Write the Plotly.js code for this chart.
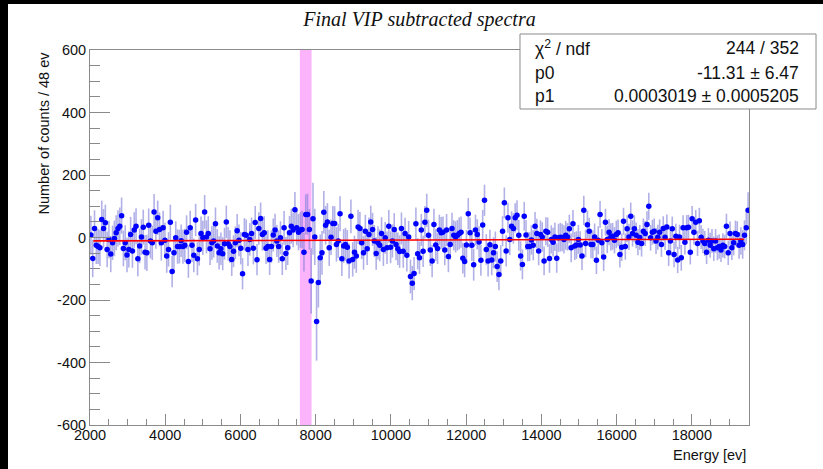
<!DOCTYPE html>
<html>
<head>
<meta charset="utf-8">
<script src="https://cdn.plot.ly/plotly-3.0.1.min.js"></script>
<style>
  html, body { margin: 0; padding: 0; background: #000; width: 823px; height: 469px; overflow: hidden; }
  #plot { position: absolute; left: 8px; top: 4px; width: 815px; height: 465px; background: #fff; }
</style>
</head>
<body>
<div id="plot"></div>
<script>
// ---- Data ----
const xMin = 2000;
const xMax = 19520;
const binWidth = 48;

const countsA = [8,-67,29,-25,-29,-33,58,29,47,-38,-6,-53,-17,-3,15,29,36,70,-35,-17,-56,-38,10,-43,24,36,-68,-27,2,33,-47,-49,39,-11,-17,82,20,63,26,-17,31,-9,-59,-38,49,-109,-49,-1,-29,-29,-10,-29,-25,17,-77,31,-25,-57,56,-68,-38,13];
const countsB = [-1,82,2,13,-36,-17,-11,44,-27,-49,-36,-52,-20,50,-20,-29,-70,-44,-17,22,-9,-34,-116,10,7,-38,-6,13,-34,48,-71,29,61,10,15,-34,-29,-70,-29,8,24,-11,-29,-1,-68,31,-51,-33,15,36,24,89,31,17,24,26,-47,74,74,26];
const countsC = [-139,60,2,-269,-144,-65,-49,81,39,50,-33,1,45,45,-22,-11,76,-68,-27,-22,-31,-75,68,-70,-47,-59,34,29,-17,-49,20,-36,10,50,26,-11,-51,-17,-25,13,-38,-1,-33,36,-31,-11,26,-22,-36];
const countsD = [-45,29,-44,13,-57,2,-125,-146,-115,44,-52,-65,24,-44,49,87,7,-40,-75,42,-24,-35,24,15,17,-40,24,-61,-22,29,7,2,7,13,17,-66,-77,-24,76,15,-25,-87,24,10,-14,-73,40,119,-38,-75,-23,-72,-49,-29,-93,-118,-75,20,111,-43,63];
const countsE = [-6,36,29,63,71,7,-59,-86,68,8,-29,-29,-8,-25,36,13,-43,10,2,-75,20,17,-67,-6,-15,2,-66,-1,1,0,-6,7,2,28,-33,44,-27,-24,-6,-24,-59,87,-19,41,20,-22,-22,2,-73,-9,74,-17,-62,49,-6,17,2,4,-9,10,15,-54,-31,52,-29,28,2];
const countsF = [68,13,28,7,-15,0,-19,20,13,42,100,-1,17,20,-11,1,17,-22,29,1,34,-49,-11,28,-54,4,-72,2,-65,31,-15,31,33,-47,60,17,49,-19,54,1,-11,-19,-47,-9,-25,-11,-36,-11,-33,-29,-40,-25,-29,36,-49,13,-33,-17,13,10,-25,-11,-22,7,31,87];

const errorsA = [62,60,58,60,56,58,60,62,58,57,60,58,55,57,56,58,60,58,57,56,55,58,56,54,57,58,56,55,57,56,55,58,54,56,55,57,56,55,54,57,55,56,54,55,56,50,54,53,55,54,52,55,53,54,52,55,53,54,52,53,52,54];
const errorsB = [55,54,53,55,52,54,53,52,54,53,52,53,51,52,54,52,53,51,52,53,51,52,50,52,51,53,52,51,52,53,50,52,51,52,53,51,52,50,52,53,52,51,52,53,52,54,53,55,54,56,55,57,56,58,57,60,62,64,66,65];
const errorsC = [105,115,90,125,80,75,70,68,62,60,58,57,56,55,55,54,56,55,54,53,55,56,54,55,53,54,55,53,52,54,53,52,54,52,53,51,52,53,51,52,53,51,52,52,51,53,52,51,52];
const errorsD = [52,51,53,50,52,51,54,55,53,52,50,52,51,50,52,53,50,51,52,50,51,50,49,51,50,49,51,50,49,50,48,50,49,51,50,49,50,48,50,49,50,51,49,48,50,49,48,50,49,50,48,49,50,48,49,51,50,48,49,50,48];
const errorsE = [50,48,49,47,48,49,47,48,46,48,47,46,47,48,46,47,46,45,47,46,45,47,46,45,46,45,47,45,46,44,45,46,44,45,46,44,45,44,46,44,45,47,44,45,43,44,45,43,44,45,43,44,45,43,44,42,44,43,42,44,43,42,44,43,42,43,42];
const errorsF = [44,42,43,41,42,40,42,41,40,42,43,41,40,41,42,40,41,40,39,41,40,42,40,39,41,40,42,39,41,40,39,41,40,39,41,40,39,40,41,38,39,40,38,39,40,38,39,38,40,39,38,39,38,40,39,38,39,40,41,42,43,44,46,48,52,58];

// fit results (pol1)
const p0 = -11.31;
const p1 = 0.0003019;
const fitRange = [2090, 19390];

// highlighted region
const bandRange = [7580, 7890];

const statsLabels = ["\u03c7<sup>2</sup> / ndf", "p0", "p1"];
const statsValues = ["244 / 352", "-11.31 \u00b1 6.47", "0.0003019 \u00b1 0.0005205"];

const xTickVals = [2000,4000,6000,8000,10000,12000,14000,16000,18000];
const yTickVals = [-600,-400,-200,0,200,400,600];

// ---- Build ----
const counts = [].concat(countsA, countsB, countsC, countsD, countsE, countsF);
const errors = [].concat(errorsA, errorsB, errorsC, errorsD, errorsE, errorsF);
const energies = counts.map((_, i) => xMin + binWidth * (i + 0.5));
const fitY = fitRange.map(x => p0 + p1 * x);

const font = "Liberation Sans, Arial, Helvetica, sans-serif";

const traces = [
  {
    type: "scatter", mode: "markers",
    x: energies, y: counts,
    error_y: { type: "data", array: errors, visible: true, color: "rgba(125,125,215,0.6)", thickness: 1.6, width: 0 },
    marker: { color: "#0000ff", size: 5.5 },
    hoverinfo: "x+y", showlegend: false
  },
  {
    type: "scatter", mode: "lines",
    x: fitRange, y: fitY,
    line: { color: "#ff0000", width: 1.6 },
    showlegend: false
  }
];

// stats box geometry in paper coords
const boxX0 = 0.6525, boxX1 = 1.1017, boxY0 = 0.8427, boxY1 = 1.0427;
const rowY = [1.005, 0.939, 0.878];

const annotations = [];
statsLabels.forEach((t, i) => {
  annotations.push({ xref: "paper", yref: "paper", x: 0.672, y: rowY[i], xanchor: "left", yanchor: "middle",
    text: t, showarrow: false, font: { family: font, size: 17.5, color: "#111" } });
  annotations.push({ xref: "paper", yref: "paper", x: 1.079, y: rowY[i], xanchor: "right", yanchor: "middle",
    text: statsValues[i], showarrow: false, font: { family: font, size: 17.5, color: "#111" } });
});
annotations.push({ xref: "paper", yref: "paper", x: 0.9985, y: -0.08, xanchor: "right", yanchor: "middle",
  text: "Energy [ev]", showarrow: false, font: { family: font, size: 14.5, color: "#111" } });
annotations.push({ xref: "paper", yref: "paper", x: -0.0713, y: 1.0, xanchor: "center", yanchor: "top", textangle: -90,
  text: "Number of counts / 48 ev", showarrow: false, font: { family: font, size: 14.5, color: "#111" } });

const layout = {
  width: 815, height: 465,
  margin: { l: 82, r: 74, t: 46, b: 44, pad: 0 },
  paper_bgcolor: "#ffffff", plot_bgcolor: "#ffffff",
  title: { text: "Final VIP subtracted spectra", x: 0.5, xref: "paper", xanchor: "center", y: 0.9677, yanchor: "middle",
    font: { family: "Liberation Serif, Times New Roman, serif", size: 20, style: "italic", color: "#111" } },
  xaxis: {
    range: [xMin, xMax], showgrid: false, zeroline: false,
    showline: true, linecolor: "#8a8a8a", linewidth: 1, mirror: true,
    ticks: "inside", ticklen: 11, tickcolor: "#8a8a8a", tickwidth: 1,
    tickvals: xTickVals, ticktext: xTickVals.map(String),
    ticklabelstandoff: -3,
    minor: { dtick: 500, ticks: "inside", ticklen: 6, tickcolor: "#8a8a8a", tickwidth: 1, showgrid: false },
    tickfont: { family: font, size: 14.5, color: "#111" }
  },
  yaxis: {
    range: [-600, 600], showgrid: false, zeroline: false,
    showline: true, linecolor: "#8a8a8a", linewidth: 1, mirror: true,
    ticks: "inside", ticklen: 20, tickcolor: "#8a8a8a", tickwidth: 1,
    tickvals: yTickVals, ticktext: yTickVals.map(String),
    minor: { dtick: 50, ticks: "inside", ticklen: 10, tickcolor: "#8a8a8a", tickwidth: 1, showgrid: false },
    tickfont: { family: font, size: 14.5, color: "#111" }
  },
  shapes: [
    { type: "rect", layer: "below", xref: "x", yref: "paper", x0: bandRange[0], x1: bandRange[1], y0: 0, y1: 1,
      fillcolor: "#fbb3fb", line: { width: 0 } },
    { type: "rect", layer: "above", xref: "paper", yref: "paper", x0: boxX0, x1: boxX1, y0: boxY0, y1: boxY1,
      fillcolor: "#ffffff", line: { color: "#8a8a8a", width: 1 } }
  ],
  annotations: annotations,
  showlegend: false
};

Plotly.newPlot("plot", traces, layout, { displayModeBar: false, staticPlot: true });
</script>
</body>
</html>
